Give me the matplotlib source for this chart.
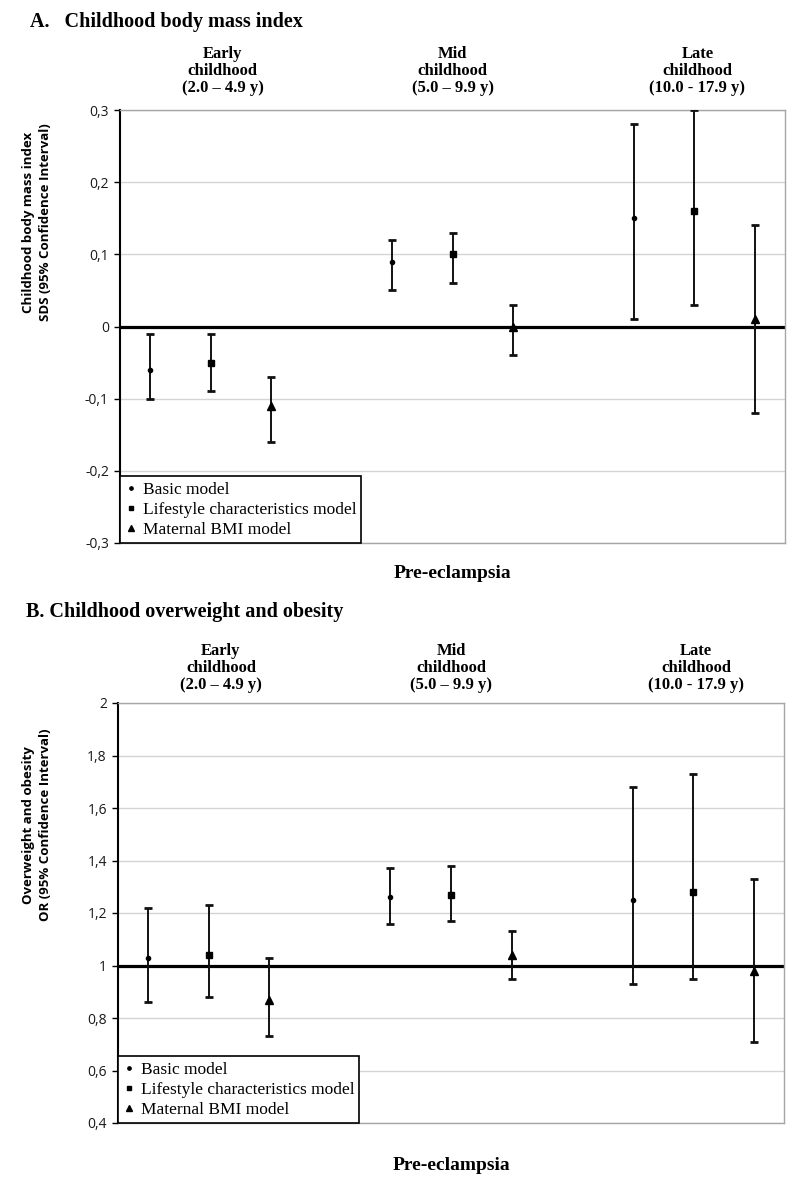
import matplotlib
matplotlib.use("Agg")
import matplotlib.pyplot as plt
from matplotlib.lines import Line2D
from matplotlib.transforms import blended_transform_factory

# x slots: 3 age groups x 3 models, empty slot between groups
positions = [0, 1, 2, 4, 5, 6, 8, 9, 10]
models = ["Basic model", "Lifestyle characteristics model", "Maternal BMI model"]
markers = ["o", "s", "^"]
msizes = [3.0, 4.3, 5.3]
groups = ["Early\nchildhood\n(2.0 \u2013 4.9 y)",
          "Mid\nchildhood\n(5.0 \u2013 9.9 y)",
          "Late\nchildhood\n(10.0 - 17.9 y)"]
group_x = [1.2, 5, 9.05]

# panel A: BMI SDS
bmi_est = [-0.06, -0.05, -0.11, 0.09, 0.10, 0.00, 0.15, 0.16, 0.01]
bmi_lo = [-0.10, -0.09, -0.16, 0.05, 0.06, -0.04, 0.01, 0.03, -0.12]
bmi_hi = [-0.01, -0.01, -0.07, 0.12, 0.13, 0.03, 0.28, 0.30, 0.14]
bmi_ticks = [-0.3, -0.2, -0.1, 0, 0.1, 0.2, 0.3]
bmi_ticklabels = ["-0,3", "-0,2", "-0,1", "0", "0,1", "0,2", "0,3"]

# panel B: overweight / obesity OR
ow_est = [1.03, 1.04, 0.87, 1.26, 1.27, 1.04, 1.25, 1.28, 0.98]
ow_lo = [0.86, 0.88, 0.73, 1.16, 1.17, 0.95, 0.93, 0.95, 0.71]
ow_hi = [1.22, 1.23, 1.03, 1.37, 1.38, 1.13, 1.68, 1.73, 1.33]
ow_ticks = [0.4, 0.6, 0.8, 1.0, 1.2, 1.4, 1.6, 1.8, 2.0]
ow_ticklabels = ["0,4", "0,6", "0,8", "1", "1,2", "1,4", "1,6", "1,8", "2"]

serif = "Liberation Serif"
sans = "Open Sans"

fig = plt.figure(figsize=(8, 11.87), dpi=100)
H = 1187.0


def fy(px):
    return 1 - px / H


def panel(rect, est, lo, hi, ref, ticks, ticklabels, ylim, title, title_x,
          title_y, head_y, ylabel, ylabel_y, xlab_y):
    ax = fig.add_axes(rect)
    ax.set_xlim(-0.5, 10.5)
    ax.set_ylim(*ylim)
    ax.set_yticks(ticks)
    ax.set_yticklabels(ticklabels, fontfamily=sans, fontsize=10, color="#1a1a1a")
    ax.set_xticks([])
    ax.yaxis.grid(True, color="#d4d4d4", lw=1)
    ax.set_axisbelow(True)
    for s in ["top", "right", "bottom"]:
        ax.spines[s].set_color("#a6a6a6")
        ax.spines[s].set_linewidth(1)
    ax.spines["left"].set_color("black")
    ax.spines["left"].set_linewidth(1.5)
    ax.tick_params(axis="y", direction="out", length=4, width=1, pad=4)
    ax.axhline(ref, color="black", lw=2.3, zorder=2)

    for k in range(3):
        idx = [k, k + 3, k + 6]
        xs = [positions[i] for i in idx]
        ys = [est[i] for i in idx]
        yerr = [[est[i] - lo[i] for i in idx], [hi[i] - est[i] for i in idx]]
        ax.errorbar(xs, ys, yerr=yerr, fmt=markers[k], ms=msizes[k],
                    color="black", ecolor="#111111", elinewidth=1.4,
                    capsize=3, capthick=2, zorder=3)

    handles = [Line2D([], [], marker=markers[k], ms=msizes[k] * 0.8, ls="none",
                      color="black") for k in range(3)]
    leg = ax.legend(handles, models, loc="lower left", bbox_to_anchor=(0, 0),
                    borderaxespad=0, fancybox=False, framealpha=1,
                    edgecolor="black", prop={"family": serif, "size": 12.5},
                    handlelength=0.7, handletextpad=0.3, labelspacing=0.22,
                    borderpad=0.3)
    leg.get_frame().set_linewidth(1.2)

    fig.text(title_x / 800, fy(title_y), title,
             fontfamily=serif, fontweight="bold", fontsize=14.5, va="center")
    tr = blended_transform_factory(ax.transData, fig.transFigure)
    for g, gx in zip(groups, group_x):
        ax.text(gx, fy(head_y), g, transform=tr, ha="center", va="center",
                fontfamily=serif, fontweight="bold", fontsize=12,
                linespacing=1.12)
    fig.text(37 / 800, fy(ylabel_y), ylabel, rotation=90,
             ha="center", va="center", multialignment="center",
             fontfamily=sans, fontweight="bold", fontsize=9.5, linespacing=1.45)
    ax.text(5, fy(xlab_y), "Pre-eclampsia", transform=tr, ha="center",
            va="center", fontfamily=serif, fontweight="bold", fontsize=14)
    return ax


panel([120 / 800, fy(543), 665 / 800, 433 / H], bmi_est, bmi_lo, bmi_hi, 0,
      bmi_ticks, bmi_ticklabels, (-0.3, 0.3),
      "A.   Childhood body mass index", 30, 22, 71,
      "Childhood body mass index\nSDS (95% Confidence Interval)", 222, 574)

panel([118 / 800, fy(1123), 666 / 800, 420 / H], ow_est, ow_lo, ow_hi, 1.0,
      ow_ticks, ow_ticklabels, (0.4, 2.0),
      "B. Childhood overweight and obesity", 26, 612, 668,
      "Overweight and obesity\nOR (95% Confidence Interval)", 825, 1165)

fig.savefig("out.png", dpi=100)
